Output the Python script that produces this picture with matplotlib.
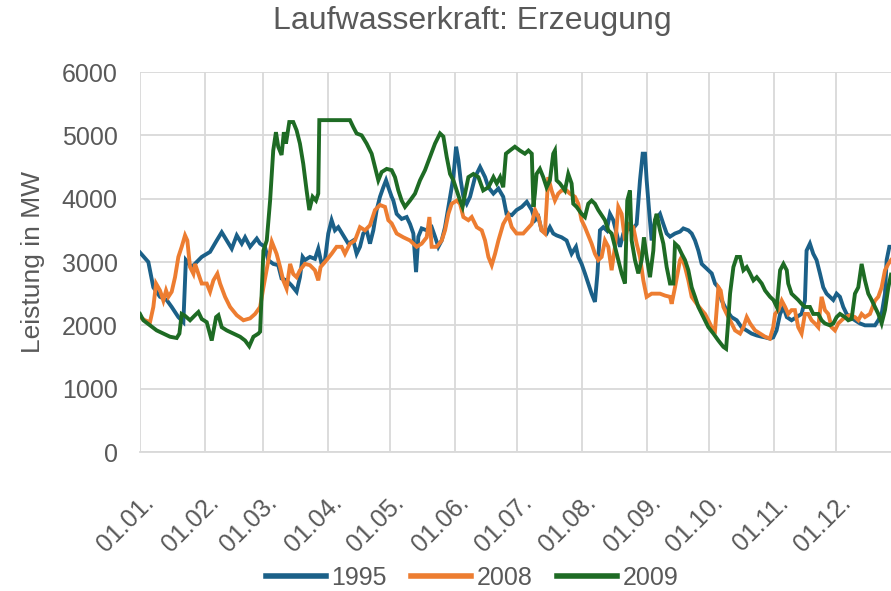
import matplotlib
matplotlib.use("Agg")
import matplotlib.pyplot as plt
import matplotlib.transforms as mtransforms

plt.rcParams['font.family'] = ['Liberation Sans', 'DejaVu Sans']

# ---------------- data (day of year, MW) ----------------
month_starts = [0, 31, 59, 90, 120, 151, 181, 212, 243, 273, 304, 334]
month_labels = ["01.01.", "01.02.", "01.03.", "01.04.", "01.05.", "01.06.",
                "01.07.", "01.08.", "01.09.", "01.10.", "01.11.", "01.12."]

days_1995 = [0, 4, 6.4, 9.6, 12.8, 15.2, 18.4, 20.8, 22, 24.8, 29.6, 33.6, 36.8, 39.2, 41.6,
             44, 46.4, 48.8, 50.4, 52.8, 56, 57.6, 59.9, 61.5, 63.9, 66.3, 67.9, 70.3, 72.7,
             75.1, 76.7, 78, 79.1, 81.5, 83.9, 85.5, 87.1, 88.7, 90.3, 91.9, 93.5, 95.1, 97.5,
             99.9, 102.3, 103.9, 105.5, 107.1, 108.7, 110.3, 111.9, 113.5, 115.1, 116.7, 118,
             119.1, 120.7, 121.5, 123.1, 125.5, 127.9, 129.5, 131.1, 132.4, 133.5, 135.1, 137.5,
             139.9, 141.5, 143.1, 144.7, 146.3, 148.7, 150.3, 151.6, 152.7, 153.8, 155.1, 156.7,
             158.3, 160.7, 163.1, 165.5, 167.1, 169.5, 171.9, 174.2, 175.8, 178.3, 180.6, 183.1,
             185.5, 187.9, 189.5, 191.1, 192.6, 195, 196.6, 198.2, 199.8, 202.2, 204.6, 207,
             209.1, 210.2, 211.8, 213.4, 215, 216.6, 218.2, 219.4, 220.6, 222.2, 223.8, 225.4,
             227, 228.6, 230.2, 231.8, 233.5, 235.8, 238.2, 239.8, 241.1, 242.2, 243, 244.3,
             245.4, 247, 249.4, 251, 252.6, 254.2, 256.6, 259, 260.6, 263, 264.6, 266.2, 267.8,
             269.4, 271, 272.6, 274.2, 275.8, 277.4, 278.9, 281.3, 283.7, 286.2, 288.5, 290.9,
             293.3, 295.8, 298.2, 299.8, 302.1, 303.7, 305.3, 307, 308.6, 310.2, 312.5, 314.9,
             317.3, 318.9, 319.7, 321.3, 322.9, 324.5, 326.1, 327.7, 329.3, 330.9, 332.5, 334.1,
             335.7, 337.3, 338.9, 340.5, 342.9, 345.3, 347.7, 350.1, 352.5, 354.1, 355.7, 357.3,
             358.1, 359.4, 360.2]
mw_1995 = [3150, 3000, 2600, 2450, 2400, 2290, 2130, 2050, 3030, 2920, 3080, 3160, 3340, 3470, 3340,
           3210, 3420, 3290, 3390, 3240, 3370, 3290, 3240, 3030, 2970, 2950, 2740, 2710, 2630,
           2530, 2760, 3080, 3030, 3080, 3050, 3210, 2970, 3030, 3450, 3660, 3500, 3550, 3420,
           3290, 3340, 3130, 3240, 3450, 3500, 3290, 3500, 3820, 4030, 4180, 4290,
           4180, 4030, 3970, 3760, 3680, 3710, 3600, 3450, 2840, 3400, 3530, 3500,
           3550, 3400, 3240, 3340, 3550, 4030, 4340, 4820, 4610, 4290, 4030, 3920,
           4030, 4340, 4500, 4340, 4180, 4080, 4160, 4030, 3760, 3740, 3820, 3870,
           3950, 3820, 3660, 3710, 3500, 3450, 3550, 3450, 3420, 3390, 3340, 3130,
           3240, 3080, 2970, 2820, 2660, 2500, 2370, 2820, 3500, 3550, 3500, 3760,
           3660, 3450, 3240, 3450, 3550, 3500, 3600, 4290, 4710, 4710, 4290, 3760,
           3340, 3660, 3760, 3600, 3450, 3400, 3450, 3480, 3530, 3500, 3450, 3340, 3180,
           2970, 2920, 2870, 2820, 2660, 2600, 2400, 2240, 2130, 2080, 1970, 1920,
           1870, 1840, 1820, 1810, 1790, 1810, 1920, 2180, 2290, 2130, 2080, 2130,
           2180, 2390, 3180, 3290, 3130, 3030, 2820, 2600, 2500, 2450, 2400, 2500,
           2450, 2290, 2180, 2130, 2080, 2030, 2000, 2000, 2000, 2080, 2180, 2500,
           3030, 3240, 3240]

days_2008 = [0, 2.4, 4.8, 6.4, 7.7, 9.6, 11.2, 12.5, 13.6, 15.2, 16.8, 18.4, 20, 21.6, 22.7, 24,
             25.6, 26.4, 28, 29.6, 32, 33.6, 35.2, 37.1, 38.4, 40.8, 43.2, 46.4, 49.6, 52.8, 55.2,
             57.6, 59.2, 63.2, 65.5, 67.2, 68.7, 70.3, 72, 73.5, 75.1, 76.7, 79.1, 81.5, 83.9,
             85.5, 86.6, 89.5, 91.9, 94.3, 96.7, 98.3, 100.7, 103.1, 105.5, 107.9, 110.3, 112.7,
             115.1, 117.5, 119.1, 120.7, 123.1, 126.3, 129.5, 132.7, 135.1, 137.5, 138.8, 139.9,
             142.3, 144.7, 146.3, 147.9, 149.5, 151.9, 153.5, 155.1, 157.5, 159.1, 161.5, 163.9,
             165.5, 167.1, 168.7, 170.3, 171.9, 174.2, 176.6, 178.3, 180.6, 183.8, 187.9, 189.5,
             191.1, 192.6, 194.2, 195.8, 197.4, 199, 200.6, 202.2, 204.6, 206.2, 208.6, 210.2,
             211.8, 213.4, 215, 216.6, 218.2, 219.8, 221.4, 223, 224.6, 226.2, 227.8, 229.4, 231,
             232.6, 234.2, 236.6, 238.2, 239.8, 241.4, 243, 245.4, 249.4, 251.8, 254.2, 255,
             256.6, 259, 259.8, 261.4, 263, 264.6, 267, 269.4, 271, 272.6, 274.2, 275.8, 277.4,
             278.5, 279.8, 281.4, 283, 285.4, 287.8, 289.4, 291, 292.6, 295, 297.4, 299.8, 302.1,
             303.7, 304.6, 306.2, 307.8, 309.4, 310.9, 312.5, 314.1, 315.7, 317.3, 318.9, 320.5,
             322.1, 323.7, 325.3, 326.9, 328.5, 330.1, 331.7, 333.3, 334.9, 336.5, 338.2, 340.5,
             342.9, 344.5, 346.1, 347.7, 350.1, 352.5, 354.1, 355.7, 357.3, 358.9, 360.2]
mw_2008 = [2130, 2080, 2050, 2290, 2660, 2550, 2390, 2550, 2450, 2530, 2760, 3080, 3240, 3420, 3340, 2920,
           2815, 2970, 2815, 2660, 2660, 2530, 2710, 2815, 2660, 2450, 2290, 2160, 2080, 2110, 2180,
           2290, 2600, 3320, 3130, 2920, 2710, 2580, 2970, 2810, 2760, 2870, 2970, 2950, 2870,
           2710, 2920, 3030, 3130, 3240, 3240, 3130, 3290, 3340, 3550, 3500, 3580, 3820,
           3900, 3870, 3660, 3610, 3450, 3390, 3340, 3240, 3290, 3390, 3710, 3240,
           3240, 3340, 3500, 3760, 3920, 3970, 3920, 3710, 3660, 3710, 3550, 3500,
           3340, 3080, 2950, 3130, 3340, 3600, 3740, 3550, 3450, 3450, 3600, 3820,
           3710, 3500, 3450, 4340, 4130, 3970, 4080, 4130, 4130, 4080, 4030, 3920,
           3660, 3550, 3420, 3290, 3130, 3030, 3080, 3340, 3240, 2870, 3240, 3870, 3760,
           3340, 3600, 3550, 3290, 3080, 2710, 2450, 2500, 2500, 2470, 2450, 2340,
           2600, 3030, 3080, 2920, 2710, 2450, 2340, 2240, 2180, 2080, 1970, 1920, 2600,
           2550, 2290, 2180, 2080, 1920, 1870, 1970, 2130, 2030, 1920, 1870, 1820, 1790,
           1970, 2180, 2240, 2390, 2290, 2180, 2240, 2240, 1970, 1870, 2180, 2180,
           2080, 2030, 1970, 2450, 2240, 2180, 1970, 1920, 2030, 2080, 2130, 2160,
           2130, 2080, 2180, 2130, 2180, 2390, 2450, 2600, 2870, 2970, 3030]

days_2009 = [0, 1.6, 4.8, 8, 11.2, 14.4, 17.6, 18.9, 20, 21.6, 24, 26.4, 28, 29.6, 32, 34.4, 36.5,
             37.6, 39.2, 41.6, 44.8, 48, 50.4, 52.4, 54.4, 56.8, 57.6, 59.2, 60.8, 62.4, 63.9,
             65.2, 66.3, 67.9, 69, 70, 71.6, 73.5, 75.1, 76.7, 78.3, 79.9, 81.2, 82.8, 84.4, 85.5,
             86, 92.7, 100.7, 102.3, 103.9, 106.3, 108.7, 111.1, 112.7, 114.3, 115.9, 118.3, 120.7,
             122.3, 123.9, 125.5, 127.1, 129.5, 131.9, 134.3, 136.7, 139.1, 141.5, 143.9, 145.5,
             147.1, 148.7, 150.3, 151.9, 153.5, 154.7, 155.9, 157.5, 159.9, 162.3, 164.6, 167.1,
             169.5, 171.1, 172.7, 174.2, 175.5, 177.4, 179.8, 182.2, 184.6, 186.3, 187.9, 188.7,
             189.4, 190.2, 191.8, 193.4, 195, 196.6, 198.2, 199, 199.8, 201.4, 203.8, 205.4, 207,
             207.8, 209.4, 211.8, 213.4, 215, 216.6, 218.2, 219.8, 221.4, 223, 224.6, 226.2, 227.8,
             229.4, 231, 232.6, 233.7, 235, 235.8, 237.4, 239, 240.6, 241.7, 243, 244.6, 246.2,
             247, 247.8, 249.4, 251, 252.6, 254.2, 255.8, 256.6, 258.2, 259.8, 261.4, 263, 264.6,
             266.2, 267.8, 270.2, 272.6, 275, 277.4, 279.8, 281.1, 281.9, 283, 284.6, 286.2, 287.8,
             289.4, 291, 292.6, 294.2, 295.8, 298.2, 299.8, 302.2, 303.8, 305.4, 307, 308.6, 310.2,
             310.9, 312.5, 314.1, 315.7, 317.3, 318.9, 321.3, 322.9, 325.3, 326.9, 328.5, 330.9,
             332.5, 334.1, 335.7, 338.1, 339.7, 341.3, 342.9, 344.5, 346.1, 347.7, 349.3, 350.9,
             352.5, 354.1, 355.7, 357.3, 358.9, 360.2]
mw_2009 = [2180, 2080, 2000, 1920, 1870, 1820, 1800, 1870, 2180, 2150, 2080, 2160, 2210, 2100, 2050, 1760, 2130,
           2160, 1970, 1920, 1870, 1820, 1760, 1670, 1820, 1870, 1900, 3180, 3340, 3970, 4760,
           5050, 4820, 4690, 5050, 4870, 5210, 5210, 5080, 4870, 4550, 4130, 3820, 4030, 3970, 4080,
           5240, 5240, 5240, 5130, 5030, 5000, 4870, 4710, 4500, 4290, 4420, 4470, 4450,
           4340, 4130, 3970, 3870, 3970, 4080, 4290, 4450, 4660, 4870, 5030, 4980,
           4660, 4390, 4290, 4130, 3970, 3870, 4080, 4340, 4390, 4340, 4130, 4180,
           4340, 4240, 4340, 4180, 4710, 4760, 4820, 4760, 4710, 4760, 4710, 3870,
           4080, 4390, 4470, 4340, 4180, 4290, 4710, 4760, 4290, 4240, 4130, 4390, 4240,
           3920, 3870, 3760, 3710, 3920, 3970, 3920, 3820, 3740, 3660, 3500, 3450, 3240,
           3030, 2820, 2660, 3970, 4130, 3340, 3030, 2820, 3030, 3390, 3080, 2760, 3180,
           3660, 3760, 3500, 3290, 2920, 2660, 2660, 3290, 3240, 3130, 3030, 2870, 2600,
           2450, 2290, 2130, 1970, 1870, 1760, 1660, 1630, 1970, 2500, 2920, 3080, 3080,
           2870, 2920, 2820, 2710, 2760, 2660, 2550, 2450, 2400, 2290, 2870, 2970, 2870,
           2660, 2500, 2450, 2400, 2340, 2290, 2290, 2180, 2180, 2080, 2030, 2000,
           2030, 2130, 2180, 2130, 2080, 2100, 2500, 2600, 2970, 2710, 2500, 2400,
           2290, 2180, 2030, 2240, 2600, 2800]

series = [("1995", days_1995, mw_1995, "#1B6088"),
          ("2008", days_2008, mw_2008, "#ED7D31"),
          ("2009", days_2009, mw_2009, "#1E6B24")]

# ---------------- figure ----------------
W, H = 891, 591
fig = plt.figure(figsize=(W / 100, H / 100), dpi=100)
ax = fig.add_axes([140 / W, 1 - 452 / H, (W - 140) / W, 380 / H])

for name, d, v, c in series:
    ax.plot(d, v, color=c, lw=2.8, label=name, solid_joinstyle='miter')

ax.set_xlim(0, 751 / 2.085)
ax.set_ylim(0, 6000)
ax.set_yticks(range(0, 6001, 1000))
ax.set_xticks(month_starts)
ax.set_xticklabels(month_labels, rotation=45, ha='right', rotation_mode='anchor')

grid_c = "#D9D9D9"
ax.grid(True, color=grid_c, lw=1.3)
ax.set_axisbelow(True)
for s in ["left", "right", "top"]:
    ax.spines[s].set_visible(False)
ax.spines["bottom"].set_color(grid_c)
ax.spines["bottom"].set_linewidth(1.3)
ax.tick_params(axis='both', length=0, colors="#595959", labelsize=18)
ax.tick_params(axis='y', pad=16)
ax.tick_params(axis='x', pad=22)

offset = mtransforms.ScaledTranslation(2 / 100, -8 / 100, fig.dpi_scale_trans)
for lbl in ax.get_xticklabels():
    lbl.set_transform(lbl.get_transform() + offset)

ax.set_ylabel("Leistung in MW", fontsize=19, color="#595959", labelpad=12)
fig.text(472 / W, 1 - 21 / H, "Laufwasserkraft: Erzeugung", ha='center', va='center',
         fontsize=23, color="#595959")

leg = fig.legend(loc='center', bbox_to_anchor=(472 / W, 1 - 578 / H), ncol=3, frameon=False,
                 fontsize=18, handlelength=2.4, handletextpad=0.2, columnspacing=1.0,
                 labelcolor="#595959")
for h in leg.legend_handles:
    h.set_linewidth(4)

fig.savefig("out.png", dpi=100)
